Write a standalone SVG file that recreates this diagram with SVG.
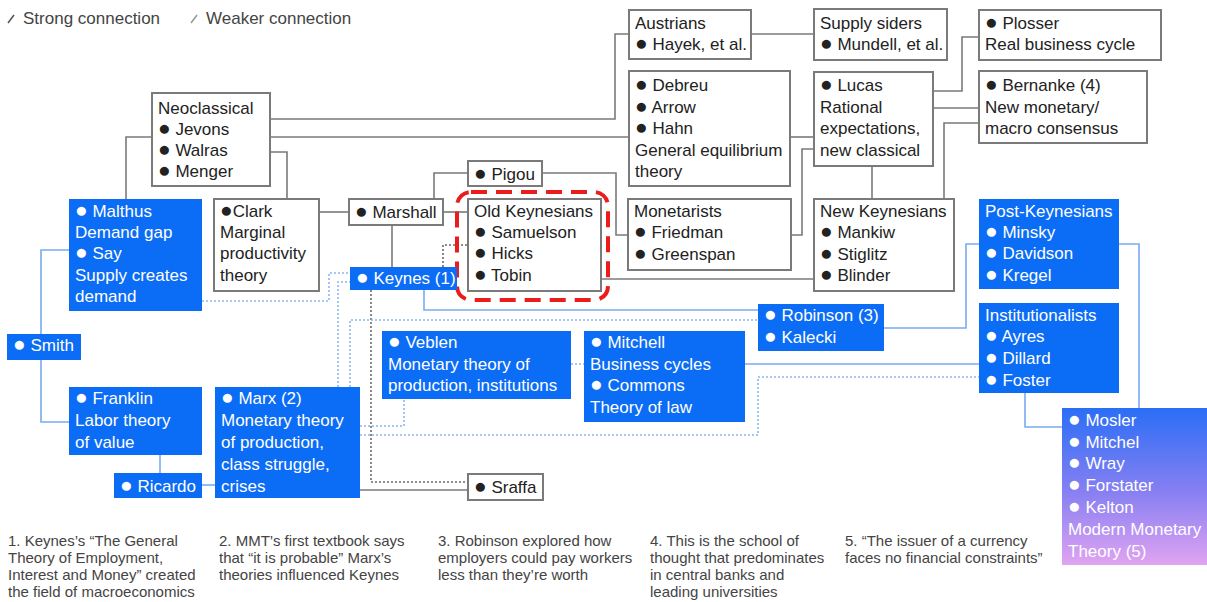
<svg xmlns="http://www.w3.org/2000/svg" width="1207" height="602" viewBox="0 0 1207 602">
<style>
text{font-family:"Liberation Sans",Arial,sans-serif;font-size:17px}
.d{font-size:21px}
.w rect{fill:#fff;stroke:#7a7a7a;stroke-width:2}
.w text{fill:#222}
.b rect{fill:#0b6cf5}
.b text{fill:#fff}
.s{fill:none;stroke:#7a7a7a;stroke-width:1.6}
.sd{fill:none;stroke:#6a6a6a;stroke-width:1.6;stroke-dasharray:2 2}
.bl{fill:none;stroke:#78aaf3;stroke-width:1.6}
.bd{fill:none;stroke:#8bb6f5;stroke-width:1.6;stroke-dasharray:2 2}
.fn text{font-size:15px;fill:#444}
.lg text{fill:#444}
</style>
<defs>
<linearGradient id="mmt" x1="0" y1="0" x2="0" y2="1">
<stop offset="0" stop-color="#2a6ef6"/>
<stop offset="0.55" stop-color="#8a80f2"/>
<stop offset="1" stop-color="#e0a4f1"/>
</linearGradient>
</defs>
<rect width="1207" height="602" fill="#fff"/>
<g id="legend" class="lg">
<line x1="8" y1="23" x2="14" y2="15" stroke="#555" stroke-width="1.5"/>
<text x="23" y="24">Strong connection</text>
<line x1="191" y1="23" x2="197" y2="15" stroke="#999" stroke-width="1.5"/>
<text x="206" y="24">Weaker connection</text>
</g>
<g id="connectors">
<path class="s" d="M270,119H615V34H629"/>
<path class="s" d="M270,137H629"/>
<path class="s" d="M790,137H814"/>
<path class="s" d="M751,34H814"/>
<path class="s" d="M933,91H962V37H979"/>
<path class="s" d="M933,108H979"/>
<path class="s" d="M979,123H944V199"/>
<path class="s" d="M872,166V199"/>
<path class="s" d="M791,235H802V149H814"/>
<path class="s" d="M601,279H814"/>
<path class="s" d="M468,173H434V198"/>
<path class="s" d="M542,173H616V235H628"/>
<path class="s" d="M443,212H468"/>
<path class="s" d="M392,225V267"/>
<path class="s" d="M319,212H349"/>
<path class="s" d="M270,152H287V199"/>
<path class="s" d="M152,137H126V199"/>
<path class="s" d="M360,490H468"/>
<path class="sd" d="M443,267V245H468"/>
<path class="sd" d="M371,290V482H468"/>
<path class="bl" d="M41,334V250H69"/>
<path class="bl" d="M41,360V422H69"/>
<path class="bl" d="M160,455V473"/>
<path class="bl" d="M202,485H215"/>
<path class="bl" d="M424,290V310H758"/>
<path class="bl" d="M884,328H966V244H979"/>
<path class="bl" d="M1119,244H1139V408"/>
<path class="bl" d="M1025,393V427H1062"/>
<path class="bl" d="M745,364H979"/>
<path class="bd" d="M571,364H584"/>
<path class="bd" d="M202,301H329V273H350"/>
<path class="bd" d="M338,387V282H350"/>
<path class="bd" d="M360,426H404V399"/>
<path class="bd" d="M360,435H758V377H979"/>
<path class="bd" d="M350,387V320H758"/>
</g>
<g id="neoclassical" class="w"><rect x="152" y="93" width="118" height="93"/>
<text x="158" y="114">Neoclassical</text><text x="158" y="135"><tspan class="d">●</tspan> Jevons</text><text x="158" y="156"><tspan class="d">●</tspan> Walras</text><text x="158" y="177"><tspan class="d">●</tspan> Menger</text></g>
<g id="austrians" class="w"><rect x="629" y="10" width="122" height="49"/>
<text x="635" y="29">Austrians</text><text x="635" y="50"><tspan class="d">●</tspan> Hayek, et al.</text></g>
<g id="general-equilibrium" class="w"><rect x="629" y="71" width="161" height="115"/>
<text x="635" y="91"><tspan class="d">●</tspan> Debreu</text><text x="635" y="113"><tspan class="d">●</tspan> Arrow</text><text x="635" y="134"><tspan class="d">●</tspan> Hahn</text><text x="635" y="156">General equilibrium</text><text x="635" y="177">theory</text></g>
<g id="supply-siders" class="w"><rect x="814" y="9" width="133" height="51"/>
<text x="820" y="29">Supply siders</text><text x="820" y="50"><tspan class="d">●</tspan> Mundell, et al.</text></g>
<g id="plosser" class="w"><rect x="979" y="10" width="182" height="50"/>
<text x="985" y="29"><tspan class="d">●</tspan> Plosser</text><text x="985" y="50">Real business cycle</text></g>
<g id="lucas" class="w"><rect x="814" y="72" width="119" height="94"/>
<text x="820" y="91"><tspan class="d">●</tspan> Lucas</text><text x="820" y="113">Rational</text><text x="820" y="134">expectations,</text><text x="820" y="156">new classical</text></g>
<g id="bernanke" class="w"><rect x="979" y="71" width="168" height="72"/>
<text x="985" y="91"><tspan class="d">●</tspan> Bernanke (4)</text><text x="985" y="113">New monetary/</text><text x="985" y="134">macro consensus</text></g>
<g id="pigou" class="w"><rect x="468" y="161" width="74" height="25"/>
<text x="474" y="180"><tspan class="d">●</tspan> Pigou</text></g>
<g id="marshall" class="w"><rect x="349" y="199" width="94" height="26"/>
<text x="355" y="218"><tspan class="d">●</tspan> Marshall</text></g>
<g id="old-keynesians" class="w"><rect x="468" y="199" width="133" height="92"/>
<text x="474" y="217">Old Keynesians</text><text x="474" y="238"><tspan class="d">●</tspan> Samuelson</text><text x="474" y="259"><tspan class="d">●</tspan> Hicks</text><text x="474" y="281"><tspan class="d">●</tspan> Tobin</text></g>
<rect id="highlight" x="457" y="192" width="151" height="108" rx="14" fill="none" stroke="#ea1c1c" stroke-width="4" stroke-dasharray="16 9"/>
<g id="monetarists" class="w"><rect x="628" y="199" width="163" height="71"/>
<text x="634" y="217">Monetarists</text><text x="634" y="238"><tspan class="d">●</tspan> Friedman</text><text x="634" y="260"><tspan class="d">●</tspan> Greenspan</text></g>
<g id="new-keynesians" class="w"><rect x="814" y="199" width="140" height="92"/>
<text x="820" y="217">New Keynesians</text><text x="820" y="238"><tspan class="d">●</tspan> Mankiw</text><text x="820" y="260"><tspan class="d">●</tspan> Stiglitz</text><text x="820" y="281"><tspan class="d">●</tspan> Blinder</text></g>
<g id="clark" class="w"><rect x="214" y="199" width="105" height="92"/>
<text x="220" y="217"><tspan class="d">●</tspan>Clark</text><text x="220" y="238">Marginal</text><text x="220" y="259">productivity</text><text x="220" y="281">theory</text></g>
<g id="malthus-say" class="b"><rect x="69" y="199" width="133" height="112"/>
<text x="75" y="217"><tspan class="d">●</tspan> Malthus</text><text x="75" y="238">Demand gap</text><text x="75" y="259"><tspan class="d">●</tspan> Say</text><text x="75" y="281">Supply creates</text><text x="75" y="302">demand</text></g>
<g id="smith" class="b"><rect x="7" y="334" width="74" height="26"/>
<text x="13" y="351"><tspan class="d">●</tspan> Smith</text></g>
<g id="keynes" class="b"><rect x="350" y="267" width="107" height="23"/>
<text x="356" y="284"><tspan class="d">●</tspan> Keynes (1)</text></g>
<g id="franklin" class="b"><rect x="69" y="387" width="133" height="68"/>
<text x="75" y="404"><tspan class="d">●</tspan> Franklin</text><text x="75" y="426">Labor theory</text><text x="75" y="448">of value</text></g>
<g id="ricardo" class="b"><rect x="114" y="473" width="88" height="25"/>
<text x="120" y="492"><tspan class="d">●</tspan> Ricardo</text></g>
<g id="marx" class="b"><rect x="215" y="387" width="145" height="111"/>
<text x="221" y="404"><tspan class="d">●</tspan> Marx (2)</text><text x="221" y="426">Monetary theory</text><text x="221" y="448">of production,</text><text x="221" y="470">class struggle,</text><text x="221" y="492">crises</text></g>
<g id="veblen" class="b"><rect x="382" y="331" width="189" height="68"/>
<text x="388" y="348"><tspan class="d">●</tspan> Veblen</text><text x="388" y="370">Monetary theory of</text><text x="388" y="391">production, institutions</text></g>
<g id="mitchell-commons" class="b"><rect x="584" y="331" width="161" height="91"/>
<text x="590" y="348"><tspan class="d">●</tspan> Mitchell</text><text x="590" y="370">Business cycles</text><text x="590" y="391"><tspan class="d">●</tspan> Commons</text><text x="590" y="413">Theory of law</text></g>
<g id="robinson-kalecki" class="b"><rect x="758" y="304" width="126" height="47"/>
<text x="764" y="321"><tspan class="d">●</tspan> Robinson (3)</text><text x="764" y="343"><tspan class="d">●</tspan> Kalecki</text></g>
<g id="post-keynesians" class="b"><rect x="979" y="199" width="140" height="90"/>
<text x="985" y="217">Post-Keynesians</text><text x="985" y="238"><tspan class="d">●</tspan> Minsky</text><text x="985" y="259"><tspan class="d">●</tspan> Davidson</text><text x="985" y="281"><tspan class="d">●</tspan> Kregel</text></g>
<g id="institutionalists" class="b"><rect x="979" y="303" width="140" height="90"/>
<text x="985" y="321">Institutionalists</text><text x="985" y="342"><tspan class="d">●</tspan> Ayres</text><text x="985" y="364"><tspan class="d">●</tspan> Dillard</text><text x="985" y="386"><tspan class="d">●</tspan> Foster</text></g>
<g id="sraffa" class="w"><rect x="468" y="474" width="75" height="26"/>
<text x="474" y="493"><tspan class="d">●</tspan> Sraffa</text></g>
<g id="mmt" class="b"><rect x="1062" y="408" width="145" height="157" style="fill:url(#mmt)"/>
<text x="1068" y="426"><tspan class="d">●</tspan> Mosler</text><text x="1068" y="448"><tspan class="d">●</tspan> Mitchel</text><text x="1068" y="469"><tspan class="d">●</tspan> Wray</text><text x="1068" y="491"><tspan class="d">●</tspan> Forstater</text><text x="1068" y="513"><tspan class="d">●</tspan> Kelton</text><text x="1068" y="535">Modern Monetary</text><text x="1068" y="557">Theory (5)</text></g>
<g id="footnotes" class="fn">
<text x="8" y="546">1. Keynes’s “The General</text><text x="8" y="563">Theory of Employment,</text><text x="8" y="580">Interest and Money” created</text><text x="8" y="597">the field of macroeconomics</text>
<text x="219" y="546">2. MMT’s first textbook says</text><text x="219" y="563">that “it is probable” Marx’s</text><text x="219" y="580">theories influenced Keynes</text>
<text x="438" y="546">3. Robinson explored how</text><text x="438" y="563">employers could pay workers</text><text x="438" y="580">less than they’re worth</text>
<text x="650" y="546">4. This is the school of</text><text x="650" y="563">thought that predominates</text><text x="650" y="580">in central banks and</text><text x="650" y="597">leading universities</text>
<text x="845" y="546">5. “The issuer of a currency</text><text x="845" y="563">faces no financial constraints”</text>
</g>
</svg>
